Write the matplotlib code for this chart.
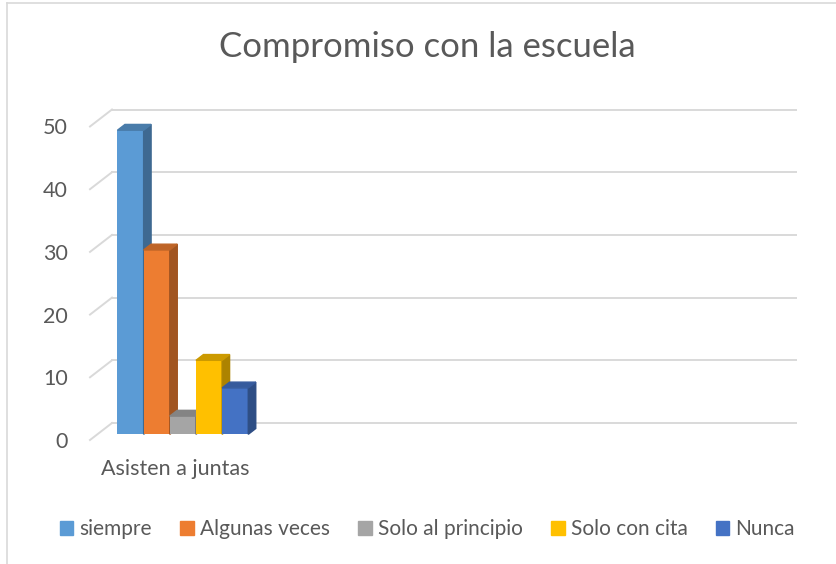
import numpy as np
import matplotlib
matplotlib.use("Agg")
import matplotlib.pyplot as plt
from matplotlib.patches import Polygon, Patch
from matplotlib.lines import Line2D
from matplotlib.colors import to_rgb

plt.rcParams['font.family'] = ['Lato', 'DejaVu Sans']

# data
categories = ["Asisten a juntas", "", "", ""]
series = ["siempre", "Algunas veces", "Solo al principio", "Solo con cita", "Nunca"]
values = [48.5, 29.4, 2.9, 11.8, 7.4]
colors = ["#5B9BD5", "#ED7D31", "#A5A5A5", "#FFC000", "#4472C4"]
yticks = [0, 10, 20, 30, 40, 50]

TXT = "#595959"
GRID = "#D9D9D9"


def shade(c, k):
    return tuple(np.array(to_rgb(c)) * k)


def main():
    W, H = 836, 564
    fig = plt.figure(figsize=(W / 100, H / 100), dpi=100)

    # axes = front plane of the 3d box (pixels)
    x0, x1, y0, y1 = 90, 774, 440, 126.5
    ax = fig.add_axes([x0 / W, 1 - y0 / H, (x1 - x0) / W, (y0 - y1) / H])
    ax.set_xlim(-0.5, len(categories) - 0.5)
    ax.set_ylim(0, 50)
    ux = (x1 - x0) / len(categories)
    uy = (y0 - y1) / 50

    def off(d):
        # depth fraction -> offset in data units
        return d * 22 / ux, d * 17 / uy

    # back wall gridlines + side diagonals
    dx, dy = off(1)
    xa, xb = ax.get_xlim()
    for y in yticks:
        ax.plot([xa, xa + dx], [y, y + dy], color=GRID, lw=1.4, clip_on=False, zorder=1)
        ax.plot([xa + dx, xb + dx], [y + dy, y + dy], color=GRID, lw=1.4, clip_on=False, zorder=1)

    # 3d columns
    w = 0.153
    fx, fy = off(0.335)
    bx, by = off(0.34)
    for i, (v, c) in enumerate(zip(values, colors)):
        xc = (i - 2) * w + fx
        xl, xr = xc - w / 2, xc + w / 2
        z = 2 + i * 3
        ax.bar(xc, v, width=w, bottom=fy, color=c, zorder=z)
        side = [(xr, fy), (xr + bx, fy + by), (xr + bx, fy + by + v), (xr, fy + v)]
        top = [(xl, fy + v), (xr, fy + v), (xr + bx, fy + v + by), (xl + bx, fy + v + by)]
        ax.add_patch(Polygon(side, closed=True, color=shade(c, 0.68), zorder=z + 1, clip_on=False))
        ax.add_patch(Polygon(top, closed=True, color=shade(c, 0.8), zorder=z + 2, clip_on=False))

    ax.set_yticks(yticks)
    ax.set_xticks(range(len(categories)))
    ax.set_xticklabels(categories)
    ax.tick_params(axis='y', length=0, pad=16, labelsize=15.5, labelcolor=TXT)
    ax.tick_params(axis='x', length=0, pad=14, labelsize=15.5, labelcolor=TXT)
    for s in ax.spines.values():
        s.set_visible(False)
    ax.patch.set_visible(False)

    # chart border
    fig.add_artist(Line2D([7 / W, 7 / W], [0, 1 - 3 / H], color=GRID, lw=1.2))
    fig.add_artist(Line2D([7 / W, 1], [1 - 3 / H, 1 - 3 / H], color=GRID, lw=1.2))

    fig.text(427 / W, 1 - 47 / H, "Compromiso con la escuela", ha='center', va='center',
             fontsize=25, color=TXT)

    handles = [Patch(color=c) for c in colors]
    fig.legend(handles, series, loc='center', bbox_to_anchor=(427.5 / W, 1 - 529 / H),
               ncol=5, frameon=False, fontsize=15, handlelength=0.65, handleheight=0.65,
               handletextpad=0.3, columnspacing=1.35, labelcolor=TXT)

    fig.savefig("out.png", dpi=100)


if __name__ == '__main__':
    main()
